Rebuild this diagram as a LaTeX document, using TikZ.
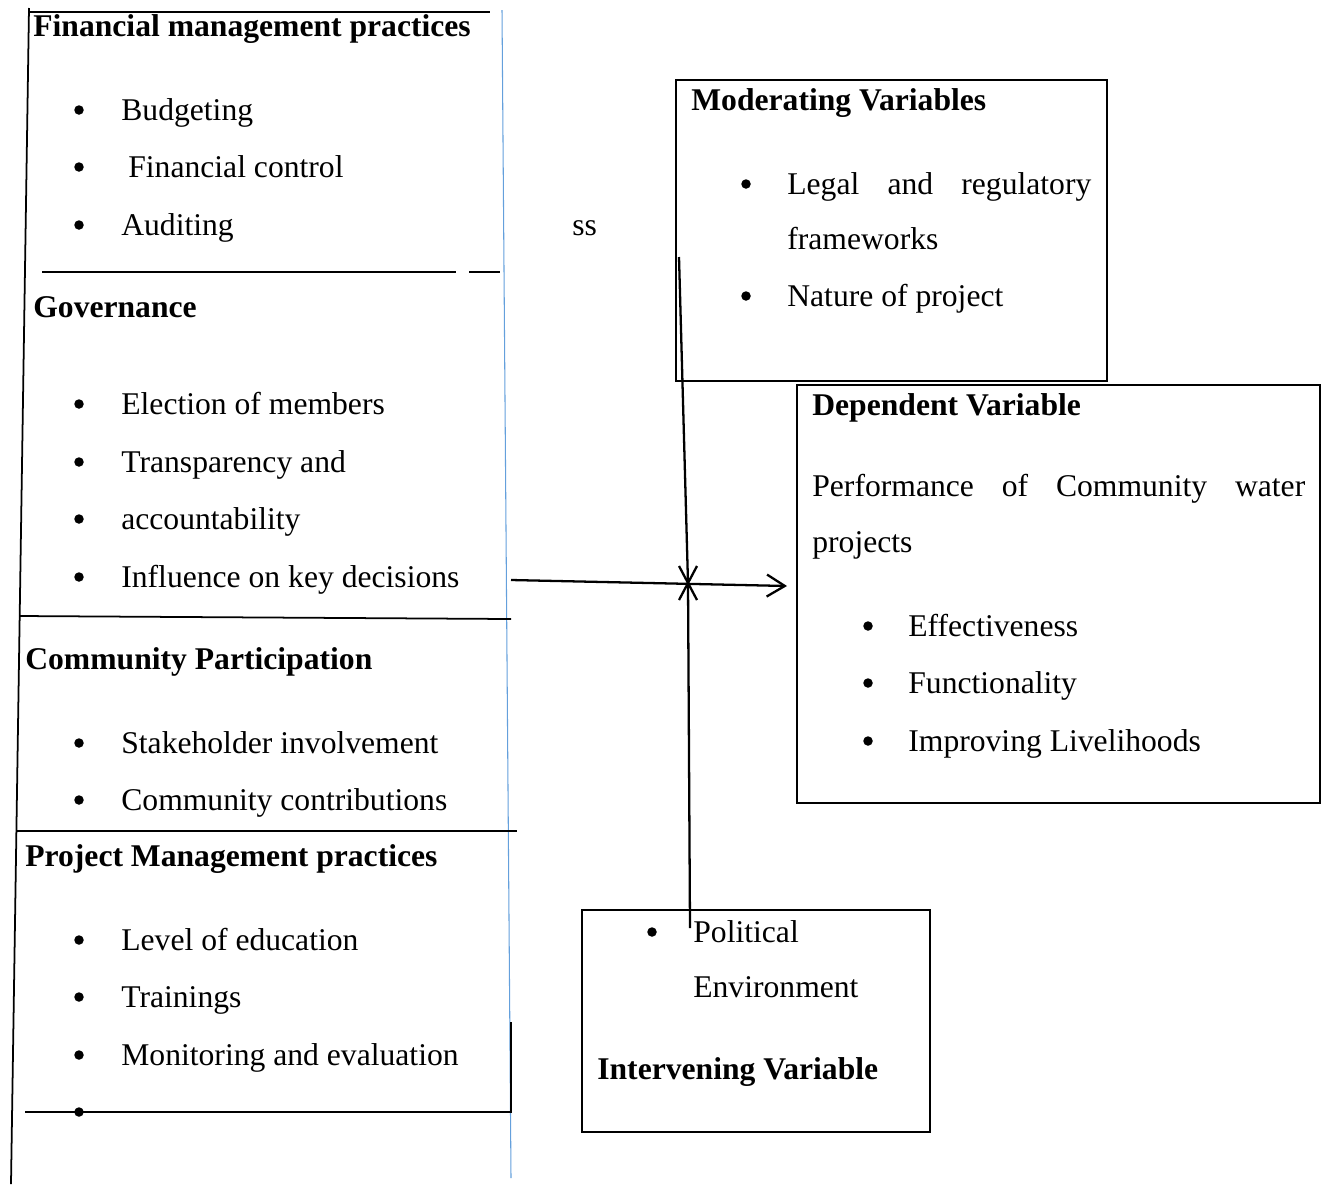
\documentclass[tikz,border=0pt]{standalone}
\usepackage{fontspec}
\setmainfont{Liberation Serif}
\usetikzlibrary{arrows.meta}
\definecolor{rulerblue}{RGB}{100,160,220}
\begin{document}
\begin{tikzpicture}[x=0.02cm, y=-0.02cm,
  txt/.style={anchor=base west, inner sep=0pt, font=\fontsize{18}{22}\selectfont},
  head/.style={txt, font=\fontsize{18}{22}\selectfont\bfseries},
  bul/.style={circle, fill=black, inner sep=0pt, minimum size=0.19cm},
  rule/.style={line width=1pt},
  box/.style={line width=1.4pt}]
  \useasboundingbox (0,0) rectangle (1321,1184);
  % left column
  \draw[rule] (29,8) -- (11,1184);
  \draw[rulerblue, line width=0.6pt] (502,10) -- (511,1178);
  \draw[rule] (30,12) -- (490,12);
  \draw[rule] (42,272) -- (456,272);
  \draw[rule] (469,272) -- (500,272);
  \draw[rule] (20,616) -- (511,619);
  \draw[rule] (17,831) -- (517,831);
  \draw[rule] (25,1112) -- (511,1112) -- (511,1022);
  \node[head] (fin) at (33,36) {Financial management practices};
  \node[txt] (fin1) at (121,120) {Budgeting};
  \node[txt] (fin2) at (128,177) {Financial control};
  \node[txt] (fin3) at (121,235) {Auditing};
  \node[txt] (ss) at (572,235) {ss};
  \node[head] (gov) at (33,317) {Governance};
  \node[txt] (gov1) at (121,414) {Election of members};
  \node[txt] (gov2) at (121,472) {Transparency and};
  \node[txt] (gov3) at (121,529) {accountability};
  \node[txt] (gov4) at (121,587) {Influence on key decisions};
  \node[head] (cp) at (25,669) {Community Participation};
  \node[txt] (cp1) at (121,753) {Stakeholder involvement};
  \node[txt] (cp2) at (121,810) {Community contributions};
  \node[head] (pm) at (25,866) {Project Management practices};
  \node[txt] (pm1) at (121,950) {Level of education};
  \node[txt] (pm2) at (121,1007) {Trainings};
  \node[txt] (pm3) at (121,1065) {Monitoring and evaluation};
  \foreach \y in {110,167,225,404,462,519,577,743,800,940,997,1055,1112}
    \node[bul] (b\y) at (79,\y) {};
  % moderating
  \draw[box] (676,80) rectangle (1107,381);
  \node[head] (mod) at (691,110) {Moderating Variables};
  \node[bul] (mb1) at (746,184) {};
  \node[txt] (mod1) at (787,194) {\makebox[6.08cm][s]{Legal and regulatory}};
  \node[txt] (mod2) at (787,249) {frameworks};
  \node[bul] (mb2) at (746,296) {};
  \node[txt] (mod3) at (787,306) {Nature of project};
  % dependent
  \draw[box] (797,385) rectangle (1320,803);
  \node[head] (dep) at (812,415) {Dependent Variable};
  \node[txt] (dep1) at (812,496) {\makebox[9.86cm][s]{Performance of Community water}};
  \node[txt] (dep2) at (812,552) {projects};
  \node[bul] (db1) at (868,626) {};
  \node[txt] (dep3) at (908,636) {Effectiveness};
  \node[bul] (db2) at (868,683) {};
  \node[txt] (dep4) at (908,693) {Functionality};
  \node[bul] (db3) at (868,741) {};
  \node[txt] (dep5) at (908,751) {Improving Livelihoods};
  % intervening
  \draw[box] (582,910) rectangle (930,1132);
  \node[bul] (ib) at (652,932) {};
  \node[txt] (int1) at (693,942) {Political};
  \node[txt] (int2) at (693,997) {Environment};
  \node[head] (int) at (597,1079) {Intervening Variable};
  % connectors
  \coordinate (cross) at (688,583);
  \coordinate (vtop) at (679,257);
  \coordinate (vbot) at (690,928);
  \coordinate (arrS) at (511,580);
  \coordinate (arrE) at (787,586);
  \draw[line width=1.3pt] (vtop) -- (cross) -- (vbot);
  \draw[line width=1.3pt, -{Straight Barb[length=0.36cm, width=0.44cm]}] (arrS) -- (arrE);
  \draw[line width=1.3pt] ([shift={(-9,-17)}]cross) -- ([shift={(9,17)}]cross);
  \draw[line width=1.3pt] ([shift={(9,-17)}]cross) -- ([shift={(-9,17)}]cross);
\end{tikzpicture}
\end{document}
